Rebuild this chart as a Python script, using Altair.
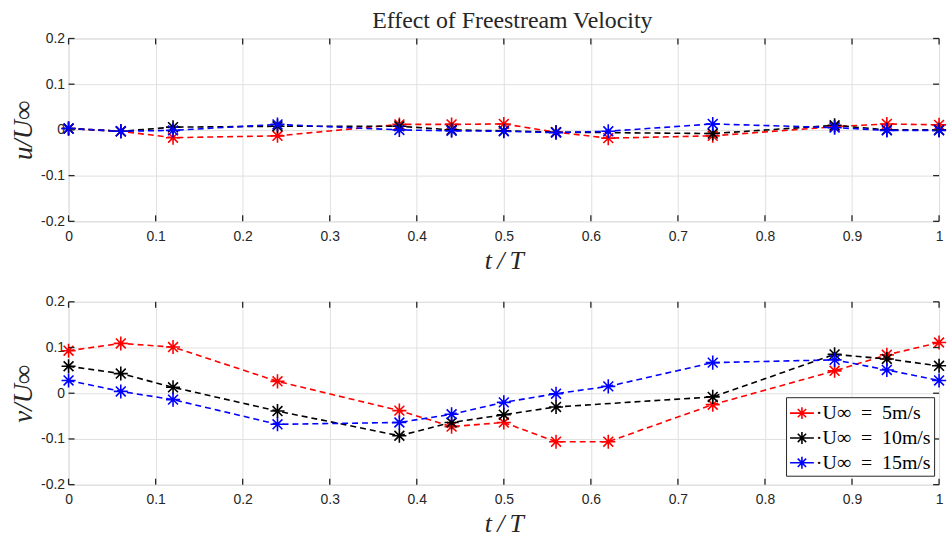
import altair as alt
import pandas as pd

# ---------------- data ----------------
t = [0, 0.06, 0.12, 0.24, 0.38, 0.44, 0.5, 0.56, 0.62, 0.74, 0.88, 0.94, 1.0]
series = ["·U∞ = 5m/s", "·U∞ = 10m/s", "·U∞ = 15m/s"]
colors = ["#ff0000", "#000000", "#0000ff"]

u_5 = [0.003, -0.003, -0.017, -0.013, 0.012, 0.012, 0.013, -0.005, -0.018, -0.013, 0.007, 0.013, 0.011]
u_10 = [0.003, -0.003, 0.006, 0.008, 0.008, 0.0, -0.002, -0.005, None, -0.008, 0.010, 0.0, 0.0]
u_15 = [0.003, -0.003, -0.001, 0.012, 0.0, -0.002, -0.003, -0.006, -0.003, 0.013, 0.005, -0.001, -0.001]

v_5 = [0.093, 0.109, 0.101, 0.026, -0.038, -0.073, -0.064, -0.106, -0.106, -0.025, 0.049, 0.084, 0.111]
v_10 = [0.059, 0.043, 0.013, -0.039, -0.093, -0.064, -0.047, -0.030, None, -0.008, 0.085, 0.075, 0.060]
v_15 = [0.028, 0.004, -0.014, -0.068, -0.064, -0.046, -0.020, -0.001, 0.015, 0.067, 0.073, 0.051, 0.028]

x_ticks = [0, 0.1, 0.2, 0.3, 0.4, 0.5, 0.6, 0.7, 0.8, 0.9, 1.0]
y_ticks = [-0.2, -0.1, 0, 0.1, 0.2]

title_text = "Effect of Freestream Velocity"
x_title = "t\u2009/\u2009T"
y_titles = ["u/U∞", "v/U∞"]

# ---------------- style ----------------
W, H = 876, 184
AX = "#262626"
GRID = "#e0e0e0"
STAR = "M-1,0L1,0M0,-1L0,1M-0.7,-0.7L0.7,0.7M-0.7,0.7L0.7,-0.7"
LEG_SYM = "M-1,0L1,0M-0.5,0L0.5,0M0,-0.5L0,0.5M-0.35,-0.35L0.35,0.35M-0.35,0.35L0.35,-0.35"
LABEL_EXPR = "datum.value == 0 ? '0' : (datum.value < 0 ? '-' : '') + format(abs(datum.value), '.1~f')"
LEG_EXPR = "replace(datum.label, ' = ', '\u2002=\u2002')"

xs = alt.Scale(domain=[0, 1], nice=False, zero=False)
ys = alt.Scale(domain=[-0.2, 0.2], nice=False, zero=False)


def panel(vals_list, ytitle, with_legend):
    rows = []
    for name, vals in zip(series, vals_list):
        for ti, vi in zip(t, vals):
            if vi is not None:
                rows.append({"t": ti, "val": vi, "series": name})
    df = pd.DataFrame(rows)

    xaxis = alt.Axis(values=x_ticks, labelExpr=LABEL_EXPR, grid=True, gridColor=GRID,
                     ticks=False, domain=False, labelFont="Liberation Sans", labelFontSize=14,
                     labelColor=AX, labelPadding=8, title=x_title, titleFont="Liberation Serif",
                     titleFontStyle="italic", titleFontWeight="normal", titleFontSize=26,
                     titleColor=AX, titlePadding=4, labelFlush=False)
    yaxis = alt.Axis(values=y_ticks, labelExpr=LABEL_EXPR, grid=True, gridColor=GRID,
                     ticks=False, domain=False, labelFont="Liberation Sans", labelFontSize=14,
                     labelColor=AX, labelPadding=4, title=ytitle, titleFont="Liberation Serif",
                     titleFontStyle="italic", titleFontWeight="normal", titleFontSize=27,
                     titleColor=AX, titlePadding=3)
    if with_legend:
        leg = alt.Legend(title=None, orient="none", legendX=722, legendY=96,
                         symbolType=LEG_SYM, symbolSize=576, symbolStrokeWidth=1.6,
                         labelFont="Liberation Serif", labelFontSize=20, labelColor="#000000",
                         labelExpr=LEG_EXPR,
                         strokeColor="#262626", fillColor="white", padding=3,
                         rowPadding=2, labelOffset=1)
        color = alt.Color("series:N", scale=alt.Scale(domain=series, range=colors), legend=leg)
    else:
        color = alt.Color("series:N", scale=alt.Scale(domain=series, range=colors), legend=None)

    base = alt.Chart(df).encode(
        x=alt.X("t:Q", scale=xs, axis=xaxis),
        y=alt.Y("val:Q", scale=ys, axis=yaxis),
        color=color,
    )
    lines = base.mark_line(strokeDash=[6, 4], strokeWidth=1.6)
    pts = base.mark_point(shape=STAR, filled=False, size=200, strokeWidth=1.6, opacity=1)

    xt = pd.DataFrame({"t": x_ticks})
    yt = pd.DataFrame({"val": y_ticks})
    tk_top = alt.Chart(xt).mark_rule(color=AX, strokeWidth=1.3).encode(
        x=alt.X("t:Q", scale=xs), y=alt.value(0), y2=alt.value(6))
    tk_bot = alt.Chart(xt).mark_rule(color=AX, strokeWidth=1.3).encode(
        x=alt.X("t:Q", scale=xs), y=alt.value(H - 6), y2=alt.value(H))
    tk_l = alt.Chart(yt).mark_rule(color=AX, strokeWidth=1.3).encode(
        y=alt.Y("val:Q", scale=ys), x=alt.value(0), x2=alt.value(6))
    tk_r = alt.Chart(yt).mark_rule(color=AX, strokeWidth=1.3).encode(
        y=alt.Y("val:Q", scale=ys), x=alt.value(W - 6), x2=alt.value(W))

    return alt.layer(lines, pts, tk_top, tk_bot, tk_l, tk_r).properties(width=W, height=H)


top = panel([u_5, u_10, u_15], y_titles[0], False)
bot = panel([v_5, v_10, v_15], y_titles[1], True)

chart = alt.vconcat(top, bot, spacing=81, bounds="flush").resolve_scale(
    color="independent"
).properties(
    title=alt.Title(title_text, font="Liberation Serif", fontSize=24, fontWeight="normal",
                    color=AX, anchor="middle", offset=-2, dx=33),
    padding={"left": 9, "top": 7, "right": 0, "bottom": 6},
).configure_view(stroke=AX, strokeWidth=1.6).configure(background="white")

chart.save("out.html", embed_options={"renderer": "svg", "actions": False})
